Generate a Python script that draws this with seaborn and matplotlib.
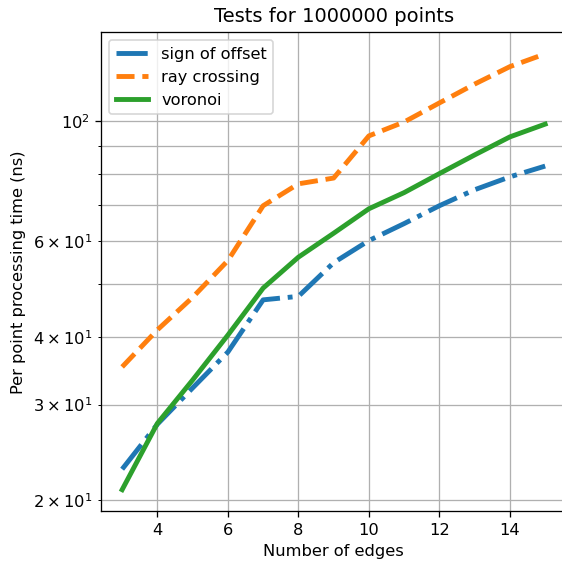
import numpy as np
import pandas as pd
import matplotlib
matplotlib.use("Agg")
import matplotlib.pyplot as plt
import seaborn as sns

# Number of edges
edges = [3, 4, 5, 6, 7, 8, 9, 10, 11, 12, 13, 14, 15]

# Per point processing time (ns)
sign_of_offset = [22.8, 27.6, 32.2, 37.5, 46.8, 47.5, 54.8, 60.2, 64.7, 69.8, 74.7, 78.9, 82.6]
ray_crossing = [35.2, 41.2, 47.3, 55.3, 69.8, 76.6, 78.5, 93.9, 99.6, 108.0, 117.0, 126.0, 133.0]
voronoi = [20.9, 27.7, 33.3, 40.3, 49.2, 56.1, 62.1, 68.9, 73.8, 80.0, 86.6, 93.5, 98.7]

series = {
    "sign of offset": (sign_of_offset, "-."),
    "ray crossing": (ray_crossing, "--"),
    "voronoi": (voronoi, "-"),
}

dpi = 117
fig = plt.figure(figsize=(562 / dpi, 563 / dpi), dpi=dpi)
# right edge of the axes falls just outside the figure, as in the reference
ax = fig.add_axes([0.1797, 0.0915, 0.828, 0.8515])

colors = sns.color_palette("tab10")
for i, (name, (vals, ls)) in enumerate(series.items()):
    df = pd.DataFrame({"edges": edges, "time": vals})
    sns.lineplot(data=df, x="edges", y="time", ax=ax, color=colors[i],
                 linestyle=ls, linewidth=3, label=name)

ax.set_yscale("log")
ax.grid(True, which="both")
ax.set_xlabel("Number of edges")
ax.set_ylabel("Per point processing time (ns)")
ax.set_title("Tests for 1000000 points")
ax.legend(loc="upper left")

fig.savefig("out.png", dpi=dpi)
